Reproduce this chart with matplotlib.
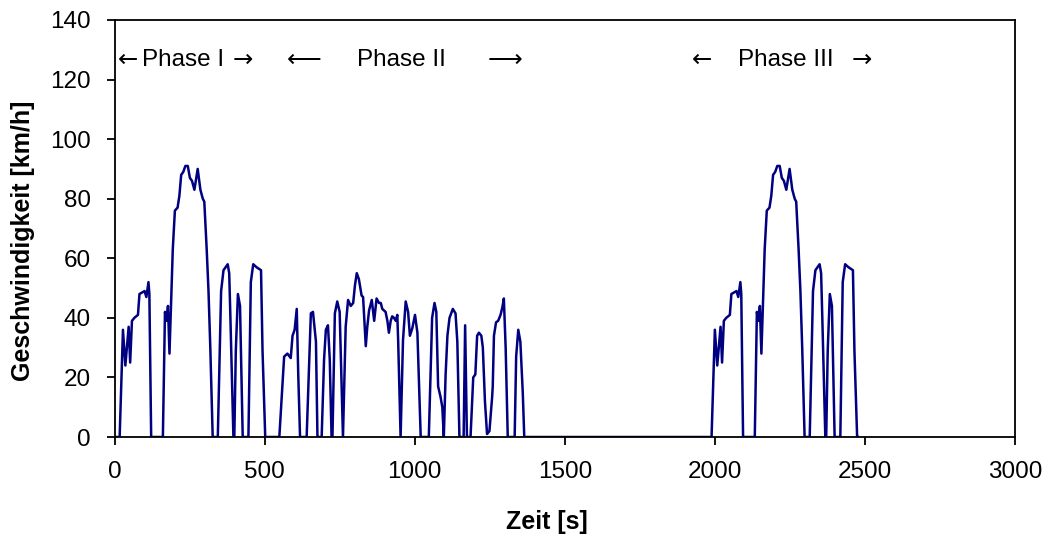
import numpy as np
import matplotlib
matplotlib.use("Agg")
import matplotlib.pyplot as plt

plt.rcParams['font.family'] = ['Liberation Sans', 'DejaVu Sans']

# Phase I (Kaltstart), Zeit in s, Geschwindigkeit in km/h
phase1_t = [0, 17, 28, 36, 47, 52, 58, 66, 78, 83, 100, 106, 110, 113, 116, 122,
            161, 168, 173, 178, 183, 194, 201, 210, 216, 222, 229, 236, 244, 251,
            258, 266, 277, 286, 294, 299, 307, 313, 319, 327, 344, 355, 363, 377,
            382, 386, 396, 399, 404, 411, 418, 427, 446, 454, 462, 473, 488, 493,
            502, 505]
phase1_v = [0, 0, 36, 24, 37, 25, 39, 40, 41, 48, 49, 47, 50, 52, 48, 0,
            0, 42, 39, 44, 28, 63, 76, 77, 81, 88, 89, 91, 91, 87,
            86, 83, 90, 83, 80, 79, 63, 49, 30, 0, 0, 49, 56, 58,
            55, 40, 0, 0, 29, 48, 44, 0, 0, 52, 58, 57, 56, 29,
            0, 0]

# Phase II (stabilisiert)
phase2_t = [505, 549, 565, 576, 587, 593, 600, 607, 612, 618, 640, 654, 661, 671,
            676, 690, 698, 704, 711, 717, 723, 726, 734, 742, 750, 761, 770, 778,
            787, 795, 801, 807, 814, 823, 828, 837, 842, 848, 857, 865, 873, 881,
            887, 892, 903, 909, 914, 920, 925, 931, 937, 942, 945, 953, 961, 970,
            978, 984, 992, 1001, 1009, 1020, 1047, 1058, 1066, 1072, 1078, 1086,
            1092, 1097, 1103, 1109, 1116, 1127, 1136, 1142, 1149, 1163, 1168, 1174,
            1186, 1195, 1202, 1208, 1214, 1222, 1227, 1234, 1241, 1249, 1258, 1260,
            1264, 1271, 1278, 1286, 1292, 1297, 1303, 1310, 1333, 1338, 1345, 1352,
            1360, 1365, 1372]
phase2_v = [0, 0, 27, 28, 26.5, 34, 36, 43, 21, 0, 0, 41.5, 42, 32,
            0, 0, 26, 36, 37.5, 26, 0, 0, 41.5, 45.5, 42, 0, 37, 46,
            44, 45, 51, 55, 53, 47.5, 47, 30.5, 37, 42.5, 46, 39, 46.5, 45,
            45, 43, 42, 39, 35, 39, 40.5, 40, 39, 41, 32, 0, 32.5, 45.5,
            42, 34, 36.5, 41, 35, 0, 0, 40, 45, 42, 17, 13.5,
            10, 0, 21, 34, 40, 43, 41.5, 32, 0, 0, 37.5, 0,
            0, 20, 21, 34, 35, 34, 30, 12, 1, 2, 13.5, 17,
            34, 38.5, 39, 41, 43.5, 46.5, 30, 0, 0, 27, 36, 32,
            15, 0, 0]

# Phase III = Wiederholung von Phase I nach der Standzeit
soak_end = 1972

t_all = phase1_t + phase2_t[1:] + [t + soak_end for t in phase1_t]
v_all = phase1_v + phase2_v[1:] + phase1_v

fig = plt.figure(figsize=(10.49, 5.43), dpi=100)
ax = fig.add_axes([0.1092, 0.1952, 0.8584, 0.768])

ax.plot(t_all, v_all, color='#000080', linewidth=1.8)

ax.set_xlim(0, 3000)
ax.set_ylim(0, 140)
ax.set_xticks(np.arange(0, 3001, 500))
ax.set_yticks(np.arange(0, 141, 20))
ax.tick_params(direction='out', length=6, width=1.3, labelsize=17.5)
ax.tick_params(axis='x', pad=11)
ax.tick_params(axis='y', pad=11)
for s in ax.spines.values():
    s.set_linewidth(1.3)

ax.set_xlabel('Zeit [s]', fontsize=18, fontweight='bold')
ax.set_ylabel('Geschwindigkeit [km/h]', fontsize=18, fontweight='bold')
ax.xaxis.set_label_coords(0.48, -0.175)
ax.yaxis.set_label_coords(-0.088, 0.47)

# Phasenbeschriftung
y_txt = 126.5
fs = 17.5
dv = ['DejaVu Sans']
ax.text(12, y_txt, '\u2190', fontsize=fs, va='center', ha='left', family=dv)
ax.text(92, y_txt, 'Phase I', fontsize=fs, va='center', ha='left')
ax.text(395, y_txt, '\u2192', fontsize=fs, va='center', ha='left', family=dv)
ax.text(574, y_txt, '\u27f5', fontsize=fs, va='center', ha='left', family=dv)
ax.text(807, y_txt, 'Phase II', fontsize=fs, va='center', ha='left')
ax.text(1244, y_txt, '\u27f6', fontsize=fs, va='center', ha='left', family=dv)
ax.text(1923, y_txt, '\u2190', fontsize=fs, va='center', ha='left', family=dv)
ax.text(2076, y_txt, 'Phase III', fontsize=fs, va='center', ha='left')
ax.text(2456, y_txt, '\u2192', fontsize=fs, va='center', ha='left', family=dv)

fig.savefig('out.png', dpi=100)
